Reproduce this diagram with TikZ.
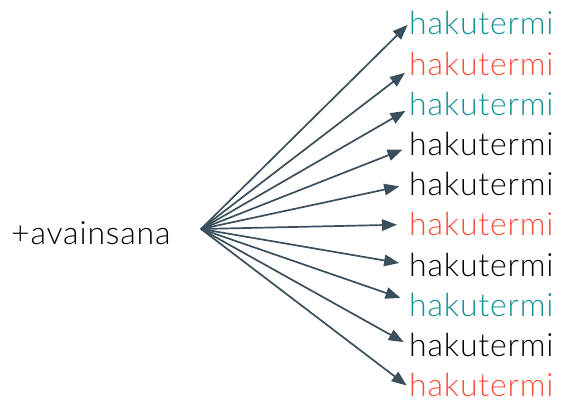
\documentclass[tikz,border=0pt]{standalone}
\usepackage{fontspec}
\setmainfont{Lato}[UprightFont={* Light},LetterSpace=2.6]
\usetikzlibrary{arrows.meta,positioning,calc}
\definecolor{termteal}{HTML}{13909B}
\definecolor{termred}{HTML}{F9503A}
\definecolor{linkslate}{HTML}{3A4F5B}

\begin{document}
\begin{tikzpicture}[x=1pt,y=1pt,
		term/.style={inner sep=0pt,anchor=base west,font=\fontsize{32}{36}\selectfont},
		link/.style={draw=linkslate,line width=1.7pt,-{Triangle[length=15pt,width=11.5pt]},shorten >=5pt}]
			\useasboundingbox (0,0) rectangle (570,415);
			\node[term] (key) at (11,170) {+avainsana};
			\coordinate (hub) at (201,186);
			\node[term,text=termteal] (t1) at (409,380) {hakutermi};
			\node[term,text=termred,below=40.2pt of t1.base west,anchor=base west] (t2) {hakutermi};
			\node[term,text=termteal,below=40.2pt of t2.base west,anchor=base west] (t3) {hakutermi};
			\node[term,below=40.2pt of t3.base west,anchor=base west] (t4) {hakutermi};
			\node[term,below=40.2pt of t4.base west,anchor=base west] (t5) {hakutermi};
			\node[term,text=termred,below=40.2pt of t5.base west,anchor=base west] (t6) {hakutermi};
			\node[term,below=40.2pt of t6.base west,anchor=base west] (t7) {hakutermi};
			\node[term,text=termteal,below=40.2pt of t7.base west,anchor=base west] (t8) {hakutermi};
			\node[term,below=40.2pt of t8.base west,anchor=base west] (t9) {hakutermi};
			\node[term,text=termred,below=40.2pt of t9.base west,anchor=base west] (t10) {hakutermi};
			% fan of arrows from the keyword
			\draw[link,shorten >=2pt] (hub) -- (t1.west);
			\draw[link,shorten >=5pt] (hub) -- ($(t2.west)+(0,-6)$);
			\draw[link,shorten >=4pt] (hub) -- ($(t3.west)+(0,-5)$);
			\draw[link,shorten >=7pt] (hub) -- ($(t4.west)+(0,-3)$);
			\draw[link,shorten >=10pt] (hub) -- (t5.west);
			\draw[link,shorten >=12pt] (hub) -- (t6.west);
			\draw[link,shorten >=10pt] (hub) -- (t7.west);
			\draw[link,shorten >=9pt] (hub) -- ($(t8.west)+(0,4)$);
			\draw[link,shorten >=6pt] (hub) -- (t9.west);
			\draw[link,shorten >=3pt] (hub) -- ($(t10.west)+(0,-2)$);
		\end{tikzpicture}
\end{document}
